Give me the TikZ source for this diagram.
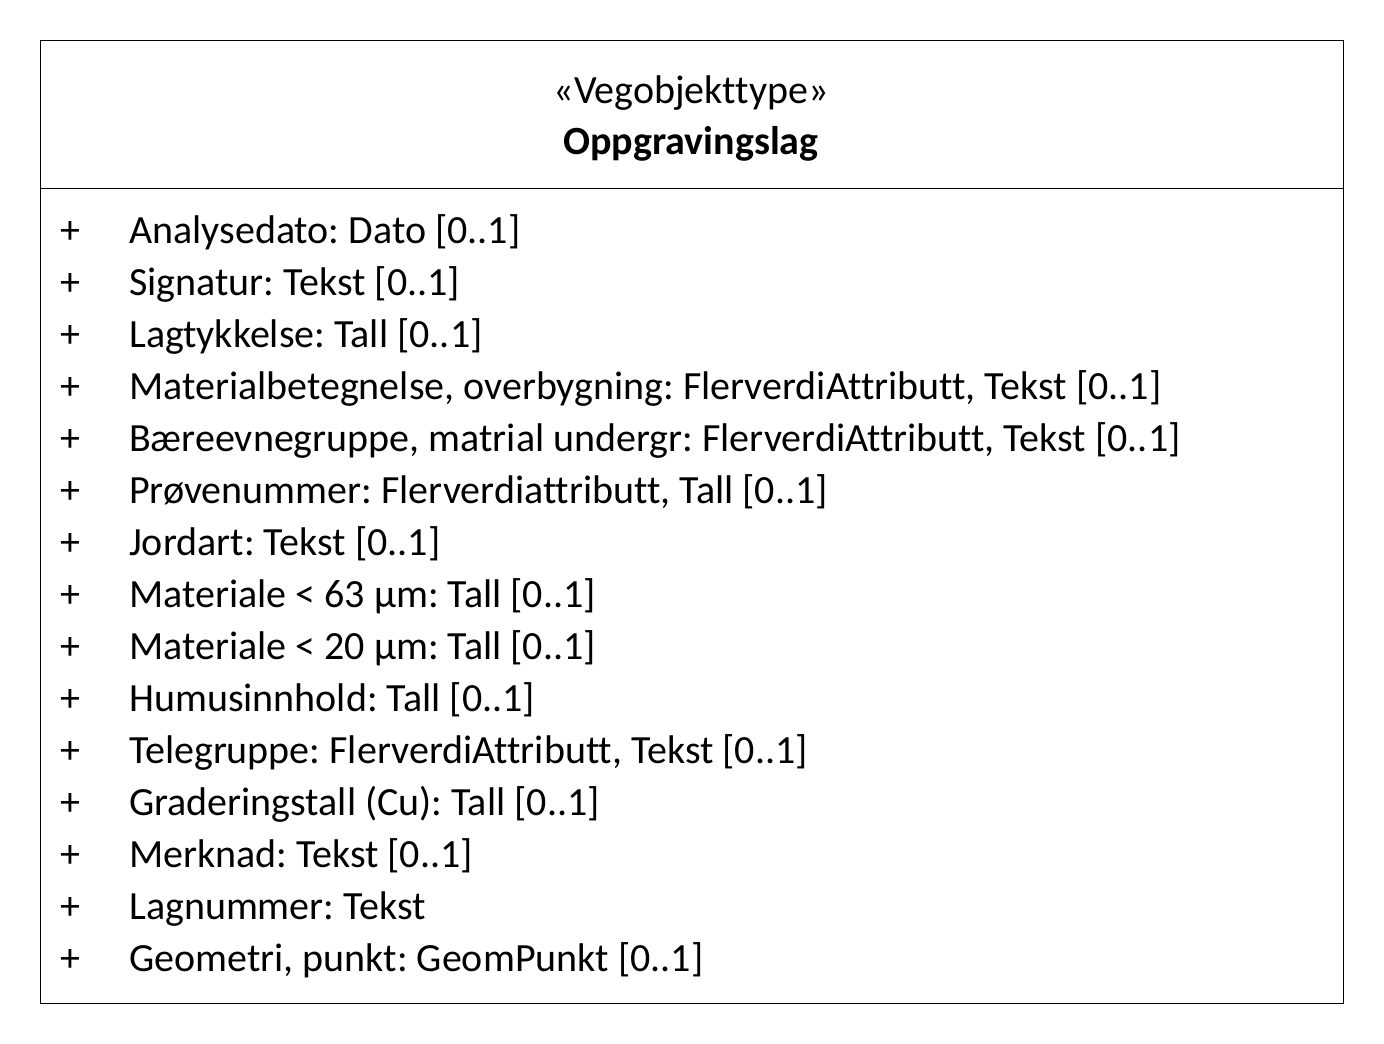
\documentclass[tikz,border=0pt]{standalone}
\usepackage{fontspec}
\setmainfont[Ligatures=NoCommon]{Carlito}
\begin{document}
\frenchspacing
\begin{tikzpicture}[x=1pt,y=-1pt,
  txt/.style={font=\fontsize{40}{46}\selectfont, inner sep=0pt, anchor=base west},
  ctr/.style={font=\fontsize{40}{46}\selectfont, inner sep=0pt, anchor=base},
  frame/.style={draw=black, line width=1pt}]
\useasboundingbox (0,0) rectangle (1384,1044);
\fill[white] (0,0) rectangle (1384,1044);
% class box and compartment divider
\draw[frame] (40.5,40.5) rectangle (1343.5,1003.5);
\coordinate (dl) at (40.5,188.5);
\coordinate (dr) at (1343.5,188.5);
\draw[frame] (dl) -- (dr);
% header
\node[ctr] (stereo) at (691,103) {«Vegobjekttype»};
\node[ctr, font=\fontsize{40}{46}\selectfont\bfseries] (name) at (691,154) {Oppgravingslag};
% attributes
\foreach \t [count=\i from 0] in {
  {Analysedato: Dato [0..1]},
  {Signatur: Tekst [0..1]},
  {Lagtykkelse: Tall [0..1]},
  {Materialbetegnelse, overbygning: FlerverdiAttributt, Tekst [0..1]},
  {Bæreevnegruppe, matrial undergr: FlerverdiAttributt, Tekst [0..1]},
  {Prøvenummer: Flerverdiattributt, Tall [0..1]},
  {Jordart: Tekst [0..1]},
  {Materiale < 63 µm: Tall [0..1]},
  {Materiale < 20 µm: Tall [0..1]},
  {Humusinnhold: Tall [0..1]},
  {Telegruppe: FlerverdiAttributt, Tekst [0..1]},
  {Graderingstall (Cu): Tall [0..1]},
  {Merknad: Tekst [0..1]},
  {Lagnummer: Tekst},
  {Geometri, punkt: GeomPunkt [0..1]}} {
  \node[txt] (vis\i) at (60,{243+52*\i}) {+};
  \node[txt] (attr\i) at (129,{243+52*\i}) {\t};
}
\end{tikzpicture}
\end{document}
